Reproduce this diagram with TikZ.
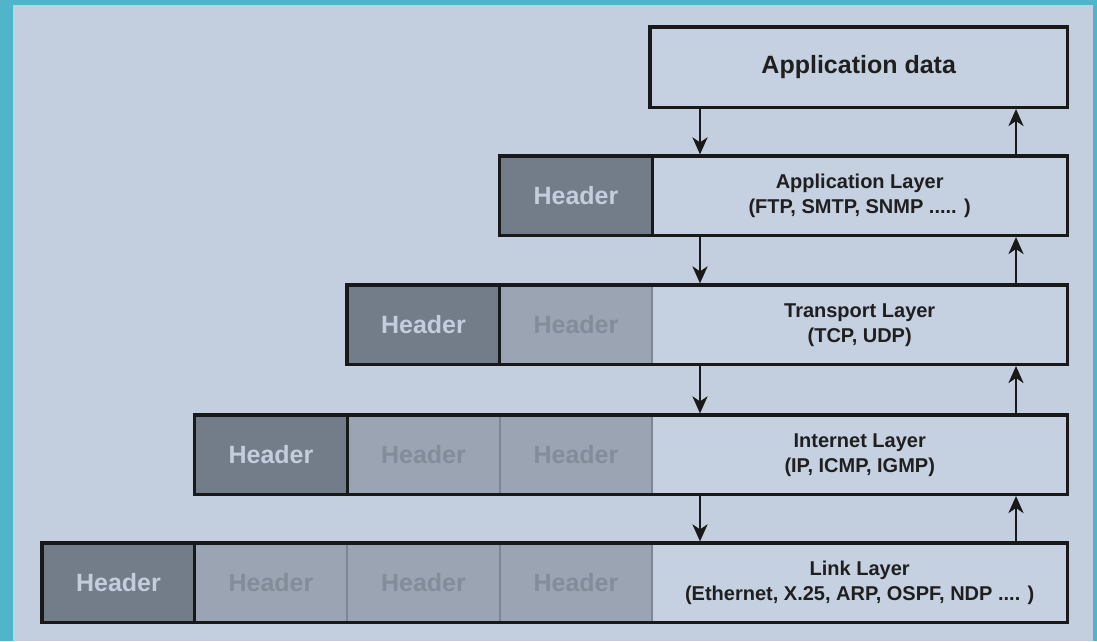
\documentclass[tikz,border=0pt]{standalone}
\usepackage{fontspec}
\setmainfont{Liberation Sans}
\usetikzlibrary{arrows.meta,calc}
\definecolor{frameteal}{HTML}{52B4C8}
\definecolor{pagebg}{HTML}{C3CFDF}
\definecolor{databg}{HTML}{C5D0E0}
\definecolor{darkhdr}{HTML}{737C89}
\definecolor{darktxt}{HTML}{C3CDDB}
\definecolor{lighthdr}{HTML}{9BA4B2}
\definecolor{lighttxt}{HTML}{838C99}
\definecolor{sepgray}{HTML}{7E8693}
\begin{document}
\begin{tikzpicture}[x=1pt,y=-1pt,
  cell/.style={anchor=north west, inner sep=0pt, minimum height=79pt},
  hdark/.style={cell, fill=darkhdr, text=darktxt, minimum width=152.5pt,
     font=\bfseries\fontsize{25}{28}\selectfont},
  hlight/.style={cell, fill=lighthdr, text=lighttxt, minimum width=152.5pt,
     font=\bfseries\fontsize{25}{28}\selectfont},
  databox/.style={cell, fill=databg, minimum width=415pt, align=center,
     font=\bfseries\fontsize{20}{25}\selectfont, text=black!88},
  outer/.style={draw=black!90, line width=3.2pt},
  darkedge/.style={draw=black!90, line width=3pt},
  sep/.style={draw=sepgray, line width=2pt},
  arr/.style={draw=black!90, line width=2.8pt, -{Stealth[length=17pt,width=15pt,inset=5pt]}}
]
\useasboundingbox (0,0) rectangle (1097,641);
\fill[frameteal] (0,0) rectangle (1097,641);
\fill[pagebg] (13,5) rectangle (1093,641);

\coordinate (downx) at (700,0);
\coordinate (upx) at (1016,0);

% application data
\node[cell, fill=databg, minimum width=417pt, minimum height=80pt,
      font=\bfseries\fontsize{25}{28}\selectfont, text=black!88] (d0) at (650,27) {Application data};
\draw[outer] (d0.north west) rectangle (d0.south east);

% row 1
\node[hdark] (h11) at (499.5,156) {Header};
\node[databox] (d1) at (652,156) {Application Layer\\(FTP, SMTP, SNMP ..... )};
\draw[darkedge] (h11.north east) -- (h11.south east);
\draw[outer] (h11.north west) rectangle (d1.south east);

% row 2
\node[hdark] (h21) at (347,285) {Header};
\node[hlight] (h22) at (499.5,285) {Header};
\node[databox] (d2) at (652,285) {Transport Layer\\(TCP, UDP)};
\draw[sep] (h22.north east) -- (h22.south east);
\draw[darkedge] (h21.north east) -- (h21.south east);
\draw[outer] (h21.north west) rectangle (d2.south east);

% row 3
\node[hdark] (h31) at (194.5,415) {Header};
\node[hlight] (h32) at (347,415) {Header};
\node[hlight] (h33) at (499.5,415) {Header};
\node[databox] (d3) at (652,415) {Internet Layer\\(IP, ICMP, IGMP)};
\draw[sep] (h32.north east) -- (h32.south east);
\draw[sep] (h33.north east) -- (h33.south east);
\draw[darkedge] (h31.north east) -- (h31.south east);
\draw[outer] (h31.north west) rectangle (d3.south east);

% row 4
\node[hdark] (h41) at (42,543) {Header};
\node[hlight] (h42) at (194.5,543) {Header};
\node[hlight] (h43) at (347,543) {Header};
\node[hlight] (h44) at (499.5,543) {Header};
\node[databox] (d4) at (652,543) {Link Layer\\(Ethernet, X.25, ARP, OSPF, NDP .... )};
\draw[sep] (h42.north east) -- (h42.south east);
\draw[sep] (h43.north east) -- (h43.south east);
\draw[sep] (h44.north east) -- (h44.south east);
\draw[darkedge] (h41.north east) -- (h41.south east);
\draw[outer] (h41.north west) rectangle (d4.south east);

% arrows
\draw[arr] ($(d0.south -| downx)+(0,1.6)$) -- ($(d1.north -| downx)+(0,-1.6)$);
\draw[arr] ($(d1.south -| downx)+(0,1.6)$) -- ($(d2.north -| downx)+(0,-1.6)$);
\draw[arr] ($(d2.south -| downx)+(0,1.6)$) -- ($(d3.north -| downx)+(0,-1.6)$);
\draw[arr] ($(d3.south -| downx)+(0,1.6)$) -- ($(d4.north -| downx)+(0,-1.6)$);
\draw[arr] ($(d1.north -| upx)+(0,-1.6)$) -- ($(d0.south -| upx)+(0,1.6)$);
\draw[arr] ($(d2.north -| upx)+(0,-1.6)$) -- ($(d1.south -| upx)+(0,1.6)$);
\draw[arr] ($(d3.north -| upx)+(0,-1.6)$) -- ($(d2.south -| upx)+(0,1.6)$);
\draw[arr] ($(d4.north -| upx)+(0,-1.6)$) -- ($(d3.south -| upx)+(0,1.6)$);
\end{tikzpicture}
\end{document}
